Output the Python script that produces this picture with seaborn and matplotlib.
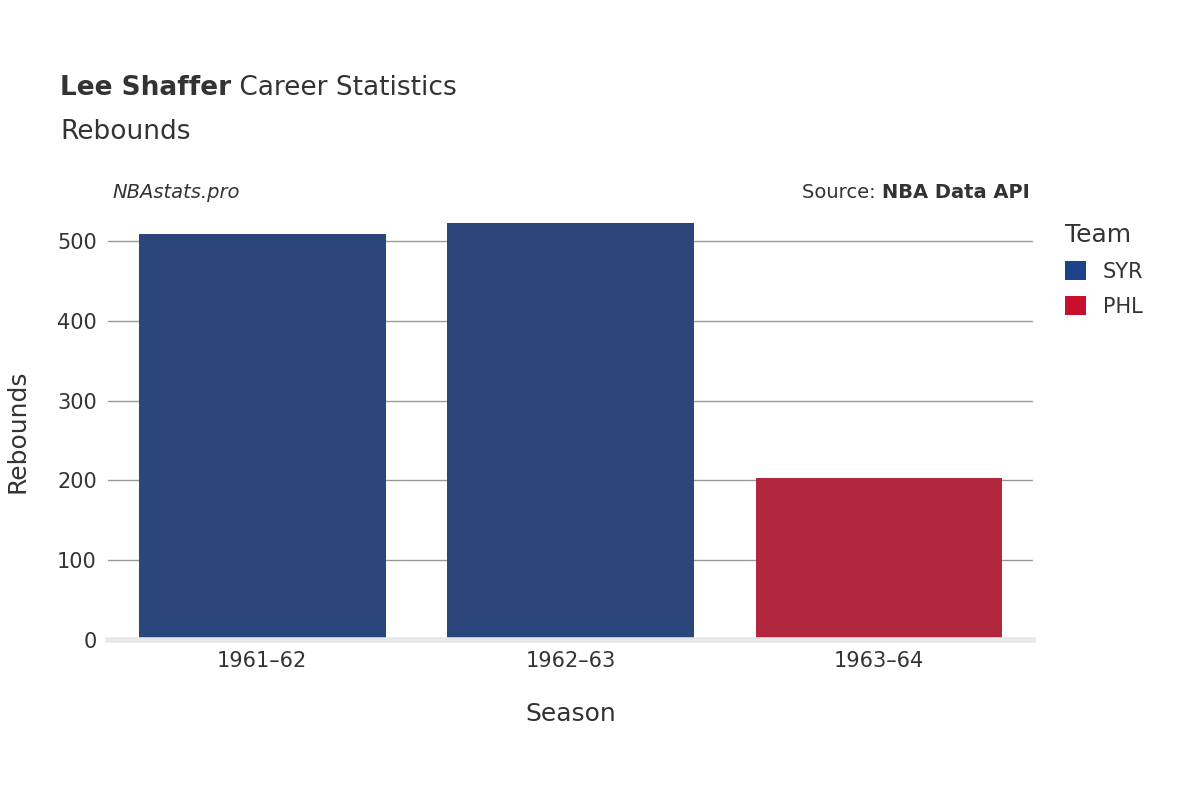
import matplotlib
matplotlib.use("Agg")
import matplotlib.pyplot as plt
import seaborn as sns
import pandas as pd
from matplotlib.patches import Patch

seasons = ["1961\u201362", "1962\u201363", "1963\u201364"]
teams = ["SYR", "SYR", "PHL"]
rebounds = [509, 523, 203]
team_colors = {"SYR": "#1d4289", "PHL": "#c8102e"}

df = pd.DataFrame({"Season": seasons, "Team": teams, "Rebounds": rebounds})

fig = plt.figure(figsize=(12, 8), dpi=100)
ax = fig.add_axes([0.09, 0.2, 0.771, 0.5225])
sns.barplot(data=df, x="Season", y="Rebounds", hue="Team", palette=team_colors,
            dodge=False, width=0.8, ax=ax, legend=False, zorder=2)
ax.set_ylim(0, 524)
ax.set_yticks([0, 100, 200, 300, 400, 500])
ax.grid(axis="y", color="#999999", linewidth=1, zorder=0)
ax.set_axisbelow(True)
for s in ["top", "right", "left"]:
    ax.spines[s].set_visible(False)
ax.spines["bottom"].set_color("#e8e8e8")
ax.spines["bottom"].set_linewidth(4)
ax.tick_params(axis="both", length=0, labelsize=15, colors="#333333", pad=8)
ax.set_xlabel("Season", fontsize=18, color="#333333", labelpad=22)
ax.set_ylabel("Rebounds", fontsize=18, color="#333333", labelpad=20)

fig.canvas.draw()
r = fig.canvas.get_renderer()
t1 = fig.text(0.05, 0.89, "Lee Shaffer", fontsize=19, fontweight="bold", color="#333333", va="center")
w = t1.get_window_extent(r).width / 1200
fig.text(0.05 + w, 0.89, " Career Statistics", fontsize=19, color="#333333", va="center")
fig.text(0.05, 0.835, "Rebounds", fontsize=19, color="#333333", va="center")
fig.text(0.094, 0.76, "NBAstats.pro", fontsize=14, style="italic", color="#333333", va="center")
s2 = fig.text(0.858, 0.76, "NBA Data API", fontsize=14, fontweight="bold", color="#333333", va="center", ha="right")
w2 = s2.get_window_extent(r).width / 1200
fig.text(0.858 - w2, 0.76, "Source: ", fontsize=14, color="#333333", va="center", ha="right")

handles = [Patch(facecolor=team_colors[t], label=t) for t in ["SYR", "PHL"]]
leg = fig.legend(handles=handles, title="Team", loc="upper left", bbox_to_anchor=(0.872, 0.745),
                 frameon=False, fontsize=15, title_fontsize=18, handlelength=1, handleheight=1,
                 labelspacing=0.7, labelcolor="#333333")
leg.get_title().set_color("#333333")
leg._legend_box.align = "left"

fig.savefig("out.png", dpi=100)
